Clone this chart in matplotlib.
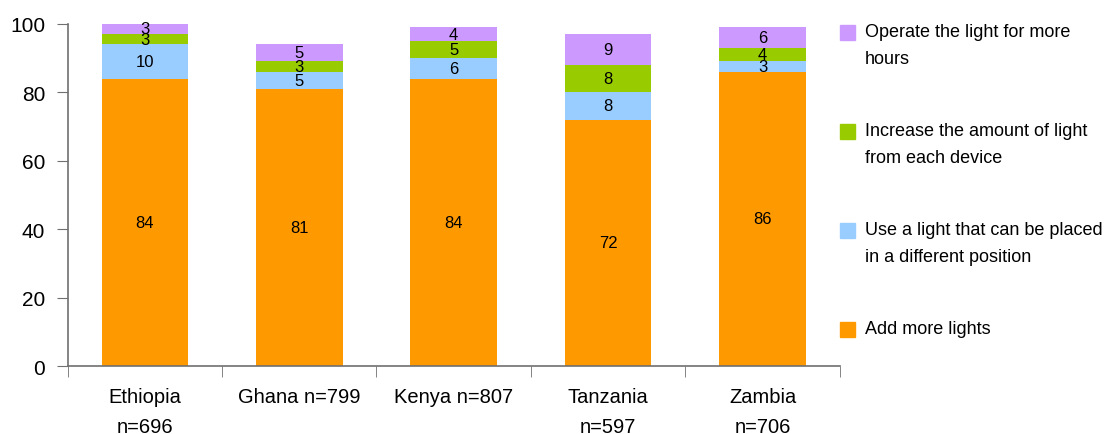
import numpy as np
import matplotlib.pyplot as plt
from matplotlib.patches import Rectangle

plt.rcParams['font.family'] = ['Liberation Sans', 'DejaVu Sans']

countries = ['Ethiopia\nn=696', 'Ghana n=799', 'Kenya n=807', 'Tanzania\nn=597', 'Zambia\nn=706']
series_names = ['Add more lights',
                'Use a light that can be placed\nin a different position',
                'Increase the amount of light\nfrom each device',
                'Operate the light for more\nhours']
add_lights = [84, 81, 84, 72, 86]
new_position = [10, 5, 6, 8, 3]
more_light = [3, 3, 5, 8, 4]
more_hours = [3, 5, 4, 9, 6]
colors = ['#FF9900', '#99CCFF', '#99CC00', '#CC99FF']

values = [add_lights, new_position, more_light, more_hours]

fig = plt.figure(figsize=(11.08, 4.35), dpi=100)
ax = fig.add_axes([0.061, 0.156, 0.697, 0.787])

x = np.arange(len(countries))
bottom = np.zeros(len(countries))
for vals, col in zip(values, colors):
    vals = np.array(vals, dtype=float)
    ax.bar(x, vals, width=0.56, bottom=bottom, color=col, edgecolor='none')
    for xi, b, v in zip(x, bottom, vals):
        ax.text(xi, b + v / 2, f'{v:g}', ha='center', va='center', fontsize=12)
    bottom += vals

ax.set_xlim(-0.5, len(countries) - 0.5)
ax.set_ylim(0, 100)
ax.set_yticks(range(0, 101, 20))
ax.tick_params(axis='y', labelsize=15, length=8, color='#707070', pad=8)

# labels under the bars, tick marks at the category edges
ax.set_xticks(x)
ax.set_xticklabels(countries, fontsize=14.5, linespacing=1.75)
ax.tick_params(axis='x', which='major', length=0, pad=15)
ax.set_xticks(np.arange(len(countries) + 1) - 0.5, minor=True)
ax.tick_params(axis='x', which='minor', length=8, color='#707070')

for side in ['top', 'right']:
    ax.spines[side].set_visible(False)
for side in ['left', 'bottom']:
    ax.spines[side].set_color('#707070')
    ax.spines[side].set_linewidth(1.2)

# legend, top entry first
W, H = 1108, 435
legend_y = [34, 133, 232, 331]
for name, col, ly in zip(series_names[::-1], colors[::-1], legend_y):
    fig.patches.append(Rectangle((840 / W, 1 - (ly + 7) / H), 15 / W, 15 / H,
                                 transform=fig.transFigure, color=col))
    fig.text(865 / W, 1 - (ly - 10) / H, name, fontsize=13, va='top', ha='left',
             linespacing=1.75, transform=fig.transFigure)

fig.savefig('out.png', dpi=100)
